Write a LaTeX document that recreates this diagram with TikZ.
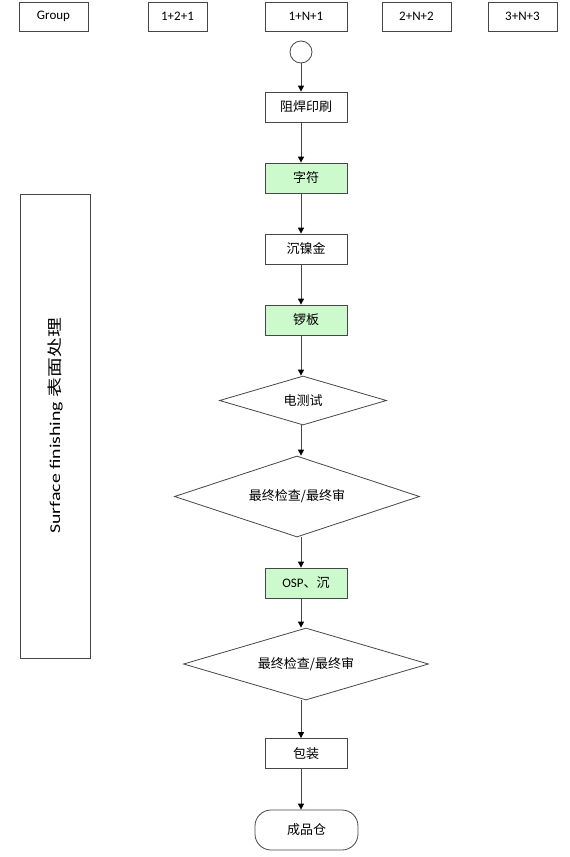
\documentclass[tikz,border=0pt]{standalone}
\usepackage{fontspec}
\setmainfont{Carlito}
\newfontfamily\cjk{Noto Sans CJK SC}
\usetikzlibrary{shapes.geometric, arrows.meta, positioning}
\definecolor{colGreen}{RGB}{204, 250, 204}
\definecolor{colLine}{RGB}{70, 70, 70}

\begin{document}
\begin{tikzpicture}[x=1pt, y=-1pt,
    every node/.style={font=\fontsize{13}{15}\selectfont},
    hdr/.style={draw=colLine, line width=0.8pt, minimum height=29pt, inner sep=0pt},
    stepbox/.style={draw=colLine, line width=0.8pt, minimum width=82pt, minimum height=30pt, inner sep=0pt},
    greenbox/.style={stepbox, fill=colGreen},
    check/.style={diamond, draw=colLine, line width=0.8pt, inner sep=0pt, aspect=3},
    flow/.style={draw=colLine, line width=1pt, -{Triangle[length=6pt, width=6pt, color=black]}}]
    \useasboundingbox (0,0) rectangle (570,857);

    % --- Kopfzeile ---
    \foreach \nm/\cx/\w/\txt in {hGroup/53.5/69/Group, hA/177.5/59/1+2+1, hB/306/82/1+N+1,
                                 hC/416.5/69/2+N+2, hD/522.5/69/3+N+3} {
        \node[hdr, minimum width=\w] (\nm) at (\cx, 16.5) {\txt};
    }

    % --- Ablauf ---
    \node[circle, draw=colLine, line width=0.8pt, minimum size=22pt, inner sep=0pt] (start) at (301, 52) {};
    \node[stepbox] (mask) at (306, 107) {\cjk 阻焊印刷};
    \node[greenbox] (legend) at (306, 178) {\cjk 字符};
    \node[stepbox] (enig) at (306, 249) {\cjk 沉镍金};
    \node[greenbox] (rout) at (306, 320) {\cjk 锣板};
    \node[check, minimum width=167pt, minimum height=49pt] (etest) at (303, 400.5) {\cjk 电测试};
    \node[check, minimum width=245pt, minimum height=81pt] (fqcA) at (297, 496.5) {\cjk 最终检查/最终审};
    \node[greenbox] (osp) at (306, 583) {OSP\cjk 、沉};
    \node[check, minimum width=245pt, minimum height=72pt] (fqcB) at (306, 664) {\cjk 最终检查/最终审};
    \node[stepbox] (pack) at (306, 753.5) {\cjk 包装};
    \node[draw=colLine, line width=0.8pt, rounded corners=16pt, minimum width=103pt, minimum height=40pt] (store) at (306.5, 830) {\cjk 成品仓};

    % Pfeile entlang der Mittellinie
    \foreach \a/\b in {start/mask, mask/legend, legend/enig, enig/rout, rout/etest,
                       etest/fqcA, fqcA/osp, osp/fqcB, fqcB/pack, pack/store} {
        \draw[flow] (\a.south -| start) -- (\b.north -| start);
    }

    % --- Bereich links ---
    \node[draw=colLine, line width=0.8pt, rotate=90, minimum width=464pt, minimum height=70pt, inner sep=0pt,
          font=\fontsize{15}{18}\selectfont] (stage) at (55, 426)
          {\scalebox{1.32}[1]{Surface finishing \cjk 表面处理}};
\end{tikzpicture}
\end{document}
